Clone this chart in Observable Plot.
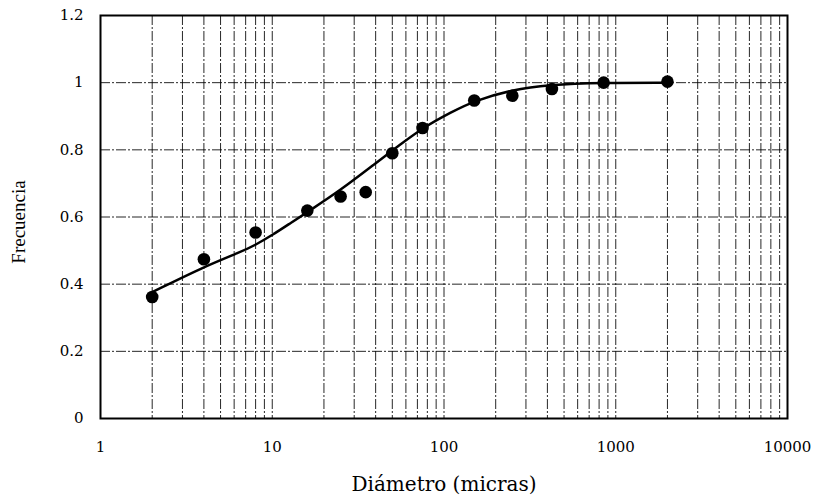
<!DOCTYPE html>
<html><head><meta charset="utf-8">
<script src="https://cdn.jsdelivr.net/npm/d3@7"></script>
<script src="https://cdn.jsdelivr.net/npm/@observablehq/plot@0.6"></script>
<style>body{margin:0;background:#fff}</style>
</head><body><div id="chart"></div>
<script>
// Observed data points
const diametros = [2, 4, 8, 16, 25, 35, 50, 75, 150, 250, 425, 850, 2000];
const frecuencias = [0.362, 0.474, 0.554, 0.619, 0.661, 0.674, 0.790, 0.865, 0.947, 0.961, 0.981, 1.0, 1.003];
// Fitted curve
const curvaX = [2, 4, 6.5, 8, 10, 12.7, 16.5, 25, 40, 55, 75, 110, 150, 250, 400, 850, 2000];
const curvaY = [0.376, 0.452, 0.495, 0.517, 0.546, 0.581, 0.619, 0.680, 0.760, 0.814, 0.865, 0.912, 0.946, 0.979, 0.994, 1.0, 1.0];
// Ticks and grid
const xTicks = [1, 10, 100, 1000, 10000];
const yTicks = [0, 0.2, 0.4, 0.6, 0.8, 1, 1.2];
const gridX = [2,3,4,5,6,7,8,9,10,20,30,40,50,60,70,80,90,100,200,300,400,500,600,700,800,900,1000,2000,3000,4000,5000,6000,7000,8000,9000];
const gridY = [0.2, 0.4, 0.6, 0.8, 1];
const xTitle = "Diámetro (micras)";
const yTitle = "Frecuencia";

const puntos = diametros.map((d, i) => ({x: d, y: frecuencias[i]}));
const curva = curvaX.map((d, i) => ({x: d, y: curvaY[i]}));

const gridStyle = {stroke: "black", strokeWidth: 1, strokeDasharray: "10,2,2,2", strokeOpacity: 0.85};

const chart = Plot.plot({
  width: 818, height: 499,
  marginLeft: 100, marginRight: 31, marginTop: 15, marginBottom: 81,
  x: {type: "log", domain: [1, 10000]},
  y: {domain: [0, 1.2]},
  style: {fontFamily: "DejaVu Serif", fontSize: "15px", color: "black", background: "white"},
  marks: [
    Plot.ruleX(gridX, gridStyle),
    Plot.ruleY(gridY, gridStyle),
    Plot.frame({stroke: "black", strokeWidth: 2}),
    Plot.line(curva, {x: "x", y: "y", curve: "basis", stroke: "black", strokeWidth: 2.5}),
    Plot.dot(puntos, {x: "x", y: "y", r: 6.3, fill: "black", stroke: "none"}),
    Plot.axisX({ticks: xTicks, tickFormat: d => String(d), tickSize: 0, tickPadding: 23, label: null}),
    Plot.axisY({ticks: yTicks, tickFormat: d => String(d), tickSize: 0, tickPadding: 17, label: null}),
    Plot.text([xTitle], {frameAnchor: "bottom", dy: 72, fontSize: 20}),
    Plot.text([yTitle], {frameAnchor: "left", textAnchor: "middle", dx: -82, dy: 5, rotate: -90, fontSize: 19, fontFamily: "Liberation Serif"})
  ]
});
document.getElementById("chart").append(chart);
</script>
</body></html>
